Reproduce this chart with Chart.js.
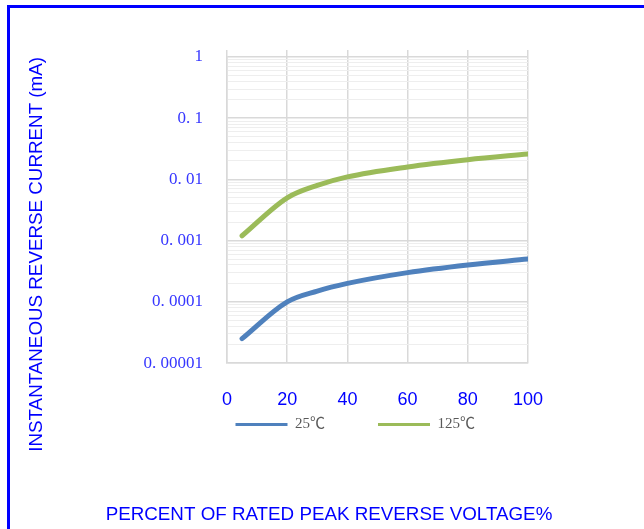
<!DOCTYPE html>
<html>
<head>
<meta charset="utf-8">
<script src="https://cdn.jsdelivr.net/npm/chart.js@4.4.0/dist/chart.umd.min.js"></script>
<style>
  html, body { margin: 0; padding: 0; background: #fff; overflow: hidden; }
  #wrap { position: relative; width: 644px; height: 529px; }
  #frame { position: absolute; left: 7px; top: 5px; right: -10px; bottom: -10px;
    border-top: 3px solid #0000ff; border-left: 3px solid #0000ff; pointer-events: none; }
  canvas { position: absolute; left: 0; top: 0; }
</style>
</head>
<body>
<div id="wrap">
  <canvas id="leakChart" width="644" height="529"></canvas>
  <div id="frame"></div>
</div>
<script>
// percent of rated peak reverse voltage
const voltagePct = [5, 20, 30, 40, 60, 80, 100]
// reverse current in mA
const current25 = [0.000025, 0.0001, 0.00015, 0.0002, 0.0003, 0.0004, 0.0005]
const current125 = [0.0012, 0.005, 0.008, 0.011, 0.016, 0.021, 0.026]
const seriesNames = ['25℃', '125℃']
const yTickValues = [0.00001, 0.0001, 0.001, 0.01, 0.1, 1]
const yTickLabels = ['0. 00001', '0. 0001', '0. 001', '0. 01', '0. 1', '1']

const blueLine = '#4f81bd'
const greenLine = '#9bbb59'
const gridMajor = '#d9d9d9'
const gridMinor = '#eeeeee'

const pts = (ys) => voltagePct.map((x, i) => ({x: x, y: ys[i]}))

// mantissa of a log tick, 1..9
const mant = (v) => v / Math.pow(10, Math.floor(Math.log10(v) + 1e-9))
const isDecade = (v) => Math.abs(mant(v) - 1) < 1e-6

// the bottom title is wider than the padded box, give it the whole width
const wideTitle = {
    id: 'wideTitle',
    afterLayout(chart) {
        const t = chart.titleBlock
        if (!t) return
        t.left = 14
        t.right = chart.width
        t.width = t.right - t.left
    }
}

const ctx = document.getElementById('leakChart').getContext('2d')

const leakChart = new Chart(ctx, {
    type: 'line',
    data: {
        datasets: [
            {label: seriesNames[0], data: pts(current25), borderColor: blueLine, backgroundColor: blueLine},
            {label: seriesNames[1], data: pts(current125), borderColor: greenLine, backgroundColor: greenLine}
        ]
    },
    plugins: [wideTitle],
    options: {
        responsive: false,
        animation: false,
        devicePixelRatio: 1,
        layout: {padding: {left: 130, right: 116, top: 50, bottom: 2.4}},
        elements: {
            line: {borderWidth: 5, cubicInterpolationMode: 'monotone', borderCapStyle: 'round', borderJoinStyle: 'round'},
            point: {radius: 0, hoverRadius: 0}
        },
        plugins: {
            tooltip: {enabled: false},
            legend: {
                position: 'bottom',
                align: 'end',
                labels: {
                    boxWidth: 52,
                    boxHeight: 3,
                    padding: 53,
                    color: '#595959',
                    font: {family: "'Liberation Serif', 'Noto Sans CJK SC', serif", size: 15},
                    generateLabels: (chart) => Chart.defaults.plugins.legend.labels.generateLabels(chart)
                        .map(l => Object.assign(l, {lineWidth: 0}))
                }
            },
            title: {
                display: true,
                position: 'bottom',
                text: 'PERCENT OF RATED PEAK REVERSE VOLTAGE%',
                color: '#0000ff',
                font: {family: "'Liberation Sans', Arial, sans-serif", size: 18.8, weight: 'normal'},
                padding: {top: 62, bottom: 0}
            }
        },
        scales: {
            x: {
                type: 'linear',
                min: 0,
                max: 100,
                afterFit: (s) => { s.height = 1 },
                ticks: {
                    stepSize: 20,
                    mirror: true,
                    padding: -47.5,
                    color: '#0000ff',
                    font: {family: "'Liberation Sans', Arial, sans-serif", size: 18}
                },
                grid: {color: gridMajor, lineWidth: 1.5, drawTicks: false},
                border: {color: gridMajor, width: 1.5}
            },
            xTop: {
                type: 'linear',
                position: 'top',
                min: 0,
                max: 100,
                ticks: {stepSize: 20, display: false},
                grid: {color: gridMajor, lineWidth: 1.5, drawOnChartArea: false, drawTicks: true, tickLength: 7},
                border: {display: false}
            },
            y: {
                type: 'logarithmic',
                min: yTickValues[0],
                max: yTickValues[yTickValues.length - 1],
                afterFit: (s) => { s.width = 97 },
                afterBuildTicks: (s) => {
                    s.ticks = s.ticks.filter(t => Math.abs(mant(t.value) - Math.round(mant(t.value))) < 1e-6)
                },
                ticks: {
                    autoSkip: false,
                    padding: 24,
                    color: '#3636ff',
                    font: {family: "'Liberation Serif', serif", size: 17},
                    callback: (v) => {
                        const i = yTickValues.findIndex(t => Math.abs(Math.log10(t) - Math.log10(v)) < 1e-6)
                        return i >= 0 ? yTickLabels[i] : ''
                    }
                },
                grid: {
                    drawTicks: false,
                    color: (c) => (c.tick && isDecade(c.tick.value)) ? gridMajor : gridMinor,
                    lineWidth: (c) => (c.tick && isDecade(c.tick.value)) ? 1.5 : 1
                },
                border: {color: gridMajor, width: 1.5},
                title: {
                    display: true,
                    text: 'INSTANTANEOUS REVERSE CURRENT (mA)',
                    align: 'end',
                    color: '#0000ff',
                    font: {family: "'Liberation Sans', Arial, sans-serif", size: 18.8},
                    padding: {top: -104.3, bottom: 0}
                }
            }
        }
    }
});
</script>
</body>
</html>
